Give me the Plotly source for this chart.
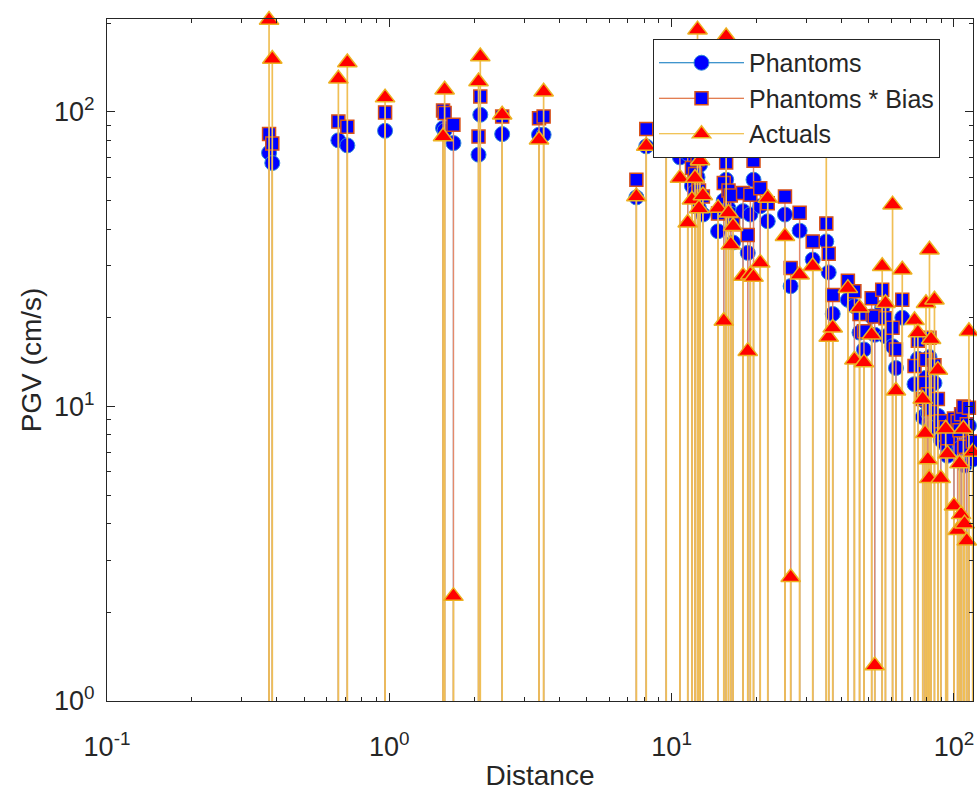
import plotly.graph_objects as go
import math

# ---------------- data ----------------
distance = [0.375, 0.385, 0.66, 0.71, 0.966, 1.55, 1.57, 1.687, 2.07, 2.10, 2.51, 3.39, 3.52,
            7.50, 8.13, 9.57, 10.7, 11.4, 11.8, 12.1, 12.35, 12.5, 12.6, 12.9,
            14.6, 15.3, 15.6, 15.9, 16.2, 16.5,
            17.9, 18.6, 19.0, 19.5, 20.6, 21.9, 25.2, 26.4, 28.4, 31.6,
            35.3, 36.0, 37.2, 42.1, 44.4, 46.3, 48.0, 51.1, 52.4, 55.7,
            57.2, 60.6, 62.3, 65.6, 72.5, 74.5, 77.5, 79.0, 79.6, 80.8,
            81.7, 81.9, 83.0, 85.3, 87.7, 89.8, 93.5, 94.8, 100.0, 103.0,
            104.6, 106.0, 108.0, 109.0, 111.0, 113.0, 116.5]

phantoms = [72.6, 67.0, 80.0, 76.9, 86.2, 88.0, 86.5, 78.3, 71.5, 97.7, 84.0, 83.6, 83.6,
            51.2, 76.3, 75.5, 70.0, 72.0, 56.0, 53.5, 60.0, 47.0, 66.0, 44.8,
            39.3, 50.0, 58.8, 47.0, 45.0, 36.0,
            46.0, 33.2, 44.8, 58.8, 47.8, 42.5, 44.8, 25.6, 39.5, 31.5,
            36.3, 28.5, 20.6, 23.0, 21.9, 17.8, 15.6, 20.2, 17.5, 21.6,
            17.3, 16.0, 13.5, 20.0, 11.9, 14.5, 9.2, 10.4, 12.5, 9.5,
            8.8, 14.7, 8.5, 12.0, 9.3, 7.7, 7.4, 6.8, 7.9, 7.7,
            7.2, 8.2, 8.6, 6.3, 7.5, 8.6, 6.6]

phantoms_bias = [84.0, 78.0, 92.7, 89.0, 99.5, 101.0, 99.0, 90.3, 82.4, 112.7, 96.4, 95.0, 96.4,
                 58.8, 87.4, 86.8, 80.5, 83.0, 64.5, 61.5, 69.0, 54.0, 76.0, 51.6,
                 45.2, 57.3, 67.3, 54.0, 52.0, 41.5,
                 53.0, 38.2, 52.3, 68.2, 55.0, 48.9, 51.6, 29.5, 45.4, 36.3,
                 41.8, 33.0, 23.9, 26.7, 24.6, 20.6, 18.0, 23.3, 20.2, 24.9,
                 19.9, 18.5, 15.6, 23.0, 13.7, 16.7, 10.6, 12.0, 14.4, 11.0,
                 10.2, 17.1, 9.8, 13.8, 10.6, 8.9, 8.5, 7.8, 9.1, 8.9,
                 8.3, 9.4, 10.0, 7.3, 8.7, 9.9, 7.6]

actuals = [205.0, 151.0, 129.4, 147.0, 111.7, 82.4, 118.8, 2.27, 126.7, 154.0, 97.7, 80.4, 117.0,
           51.6, 76.6, 105.0, 59.6, 42.0, 50.3, 59.6, 190.0, 47.0, 68.3, 52.0,
           47.1, 19.5, 180.0, 45.4, 35.4, 40.9,
           27.7, 15.4, 28.0, 27.5, 30.7, 51.0, 37.8, 2.63, 28.0, 29.9,
           125.0, 17.2, 18.5, 25.2, 14.4, 21.6, 14.1, 17.5, 1.32, 29.9,
           22.4, 48.4, 11.3, 29.1, 19.6, 17.8, 10.6, 8.1, 22.4, 6.6,
           5.7, 34.0, 16.9, 23.0, 13.3, 5.7, 8.4, 6.9, 4.6, 3.8,
           6.4, 4.3, 8.4, 4.0, 3.5, 18.0, 7.0]

x_range = [0.1, 116.8]
y_range = [1.0, 206.5]
x_ticks = [0.1, 1, 10, 100]
x_ticktext = ["10<sup>-1</sup>", "10<sup>0</sup>", "10<sup>1</sup>", "10<sup>2</sup>"]
y_ticks = [1, 10, 100]
y_ticktext = ["10<sup>0</sup>", "10<sup>1</sup>", "10<sup>2</sup>"]

# ---------------- helpers ----------------
base = y_range[0] / 3.0  # stems start below the visible bottom (log axis, baseline 0)


def stem_xy(xs, ys):
    sx, sy = [], []
    for xv, yv in zip(xs, ys):
        sx += [xv, xv, None]
        sy += [base, yv, None]
    return sx, sy


FONT = "Liberation Sans, Arial, sans-serif"
TXT = "#262626"

series = [
    dict(name="Phantoms", y=phantoms, line="#0072BD", stem="#3C8FD0", lw=1.2,
         symbol="circle", size=15, fill="rgb(0,0,255)", edge="#2F8AD8", ew=1),
    dict(name="Phantoms * Bias", y=phantoms_bias, line="#D95319", stem="#E58A6A", lw=1.4,
         symbol="square", size=13, fill="rgb(0,0,255)", edge="#D95319", ew=1.5),
    dict(name="Actuals", y=actuals, line="#EDB120", stem="#F0BF55", lw=1.7,
         symbol="triangle-up", size=17, fill="rgb(255,0,0)", edge="#EDB120", ew=1.5),
]

fig = go.Figure()
for i, s in enumerate(series):
    sx, sy = stem_xy(distance, s["y"])
    # stems (no legend)
    fig.add_trace(go.Scatter(x=sx, y=sy, mode="lines", line=dict(color=s["stem"], width=s["lw"]),
                             showlegend=False, hoverinfo="skip"))
    # markers
    fig.add_trace(go.Scatter(x=distance, y=s["y"], mode="markers", showlegend=False,
                             marker=dict(symbol=s["symbol"], size=s["size"], color=s["fill"],
                                         line=dict(color=s["edge"], width=s["ew"])),
                             cliponaxis=False))
    # legend entry (line + marker sample)
    fig.add_trace(go.Scatter(x=[None], y=[None], mode="lines+markers", name=s["name"],
                             legendgroup=f"g{i}",
                             line=dict(color=s["line"], width=1.2),
                             marker=dict(symbol=s["symbol"], size=s["size"], color=s["fill"],
                                         line=dict(color=s["edge"], width=s["ew"]))))

axis_common = dict(
    type="log", showline=True, linecolor=TXT, linewidth=1, mirror="ticks",
    ticks="inside", ticklen=8, tickcolor=TXT, tickwidth=1,
    showgrid=False, zeroline=False,
    tickfont=dict(family=FONT, size=27, color=TXT),
    minor=dict(ticks="inside", ticklen=4, tickcolor=TXT, dtick="D1", showgrid=False),
)

fig.update_xaxes(**axis_common, range=[math.log10(x_range[0]), math.log10(x_range[1])],
                 tickvals=x_ticks, ticktext=x_ticktext, ticklabelstandoff=22,
                 title=dict(text="Distance", font=dict(family=FONT, size=28, color=TXT), standoff=3))
fig.update_yaxes(**axis_common, range=[math.log10(y_range[0]), math.log10(y_range[1])],
                 tickvals=y_ticks, ticktext=y_ticktext, ticklabelstandoff=6,
                 title=dict(text="PGV (cm/s)", font=dict(family=FONT, size=28, color=TXT), standoff=4))

fig.update_layout(
    width=977, height=794,
    margin=dict(l=107, r=4, t=19, b=93),
    paper_bgcolor="white", plot_bgcolor="white",
    font=dict(family=FONT, color=TXT),
    legend=dict(x=0.6305, y=0.9707, xanchor="left", yanchor="top",
                bgcolor="white", bordercolor=TXT, borderwidth=1,
                font=dict(family=FONT, size=25, color=TXT),
                itemwidth=85, tracegroupgap=0, traceorder="normal"),
    showlegend=True,
)

fig.write_html("out.html")
